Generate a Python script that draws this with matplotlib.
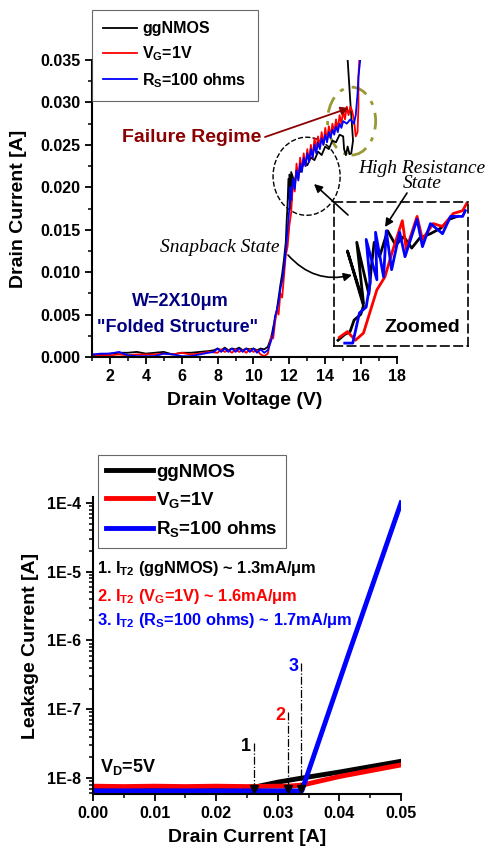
import matplotlib
matplotlib.use("Agg")
import matplotlib.pyplot as plt
import numpy as np
from matplotlib.patches import Ellipse
from matplotlib.ticker import MultipleLocator, LogLocator, FuncFormatter, NullFormatter, FormatStrFormatter

plt.rcParams['font.family'] = ['Liberation Sans', 'DejaVu Sans']
plt.rcParams['font.weight'] = 'bold'
plt.rcParams['axes.labelweight'] = 'bold'
plt.rcParams['mathtext.fontset'] = 'custom'
plt.rcParams['mathtext.rm'] = 'Liberation Sans:bold'
plt.rcParams['mathtext.it'] = 'Liberation Sans:bold:italic'
plt.rcParams['mathtext.bf'] = 'Liberation Sans:bold'

# ---- top panel: TLP I-V (current in mA) ----
gg_v = [1.0, 1.5, 2.0, 2.5, 3.0, 3.5, 4.0, 4.5, 5.0, 5.5, 6.0, 6.5, 7.0, 7.5, 7.8,
        8.0, 8.2, 8.4, 8.6, 8.8, 9.0, 9.2, 9.4, 9.6, 9.8, 10.0, 10.2, 10.4, 10.6, 10.8,
        11.0, 11.1, 11.2, 11.3, 11.4, 11.5, 11.6, 11.7, 11.8, 11.85, 11.9, 11.95,
        12.05, 12.0, 12.15, 12.1, 12.3, 12.4, 12.6, 12.8, 13.0, 13.2, 13.4, 13.6, 13.8,
        14.0, 14.2, 14.4, 14.6, 14.8, 15.0, 15.05, 15.15, 15.25, 15.35, 15.45, 15.55, 15.4, 15.25]
gg_i = [0.2, 0.3, 0.4, 0.5, 0.5, 0.6, 0.4, 0.5, 0.6, 0.3, 0.5, 0.5, 0.6, 0.7, 0.8,
        1.0, 0.8, 1.1, 0.8, 1.0, 0.9, 1.1, 0.8, 1.0, 0.9, 1.0, 0.8, 1.0, 0.9, 1.2,
        2.4, 3.5, 4.5, 5.5, 7.0, 8.5, 9.8, 11.5, 13.5, 16.0, 18.0, 21.0,
        17.5, 21.5, 18.5, 21.8, 20.5, 22.0, 21.8, 22.8, 22.6, 23.5, 23.2, 24.2, 23.8,
        24.8, 24.5, 25.5, 25.3, 26.2, 26.0, 24.5, 23.8, 24.8, 23.9, 24.0, 25.5, 30.0, 35.0]

vg_v = [1.0, 1.5, 2.0, 2.5, 3.0, 3.5, 4.0, 4.5, 5.0, 5.5, 6.0, 6.5, 7.0, 7.5, 8.0,
        8.2, 8.4, 8.6, 8.8, 9.0, 9.2, 9.4, 9.6, 9.8, 10.0, 10.2, 10.4, 10.6, 10.8, 10.9,
        11.0, 11.1, 11.2, 11.3, 11.4, 11.5, 11.6, 11.7, 11.8, 11.9,
        12.0, 12.1, 12.2, 12.3, 12.4, 12.5, 12.6, 12.7, 12.8, 12.9,
        13.0, 13.1, 13.2, 13.3, 13.4, 13.5, 13.6, 13.7, 13.8, 13.9,
        14.0, 14.1, 14.2, 14.3, 14.4, 14.5, 14.6, 14.7, 14.8, 14.9,
        15.0, 15.1, 15.2, 15.3, 15.4, 15.5, 15.6, 15.7, 15.8, 15.85, 15.85, 15.9]
vg_i = [0.3, 0.2, 0.2, 0.3, 0.2, 0.3, 0.3, 0.3, 0.4, 0.3, 0.5, 0.3, 0.4, 0.6, 0.5,
        0.9, 0.6, 0.8, 0.5, 0.9, 0.6, 0.8, 0.5, 0.9, 0.6, 0.8, 0.3, 0.1, 0.4, 1.5,
        2.5, 2.2, 4.0, 5.5, 5.0, 7.5, 7.0, 9.5, 12.0, 13.0,
        15.5, 17.0, 20.5, 19.5, 22.8, 21.0, 23.5, 22.0, 24.0, 22.5,
        24.5, 23.0, 25.0, 23.5, 25.8, 24.5, 26.0, 24.8, 26.5, 25.0,
        27.0, 25.5, 27.2, 26.0, 27.5, 26.5, 28.0, 26.8, 28.5, 27.5,
        29.0, 28.0, 29.5, 28.5, 29.5, 29.0, 28.0, 26.0, 26.5, 29.5, 33.0, 35.0]

rs_v = [1.0, 1.5, 2.0, 2.5, 3.0, 3.5, 4.0, 4.5, 5.0, 5.5, 6.0, 6.5, 7.0, 7.5, 7.8,
        8.0, 8.2, 8.4, 8.6, 8.8, 9.0, 9.2, 9.4, 9.6, 9.8, 10.0, 10.2, 10.4, 10.6, 10.8,
        11.0, 11.1, 11.2, 11.3, 11.4, 11.5, 11.6, 11.7, 11.8, 11.9, 12.0, 12.05, 12.1,
        12.2, 12.3, 12.4, 12.5, 12.6, 12.7, 12.8, 12.9,
        13.0, 13.1, 13.2, 13.3, 13.4, 13.5, 13.6, 13.7, 13.8, 13.9,
        14.0, 14.1, 14.2, 14.3, 14.4, 14.5, 14.6, 14.7, 14.8, 14.9,
        15.0, 15.2, 15.4, 15.6, 15.7, 15.8, 15.85, 15.95]
rs_i = [0.3, 0.4, 0.4, 0.6, 0.2, 0.1, 0.1, 0.1, 0.4, 0.3, 0.1, 0.1, 0.3, 0.5, 0.6,
        1.0, 0.6, 1.0, 0.6, 1.0, 0.6, 1.0, 0.6, 1.0, 0.6, 1.0, 0.5, 0.9, 0.5, 0.8,
        2.0, 3.0, 4.8, 5.5, 6.5, 8.0, 9.0, 10.5, 12.5, 15.0, 17.5, 20.0, 18.5,
        21.0, 19.8, 22.0, 20.8, 22.8, 21.8, 23.5, 22.5,
        24.0, 23.0, 24.5, 23.5, 25.0, 24.0, 25.3, 24.5, 25.8, 25.0,
        26.2, 25.3, 26.5, 25.8, 26.8, 26.2, 27.2, 26.5, 27.5, 27.0,
        27.8, 27.5, 28.0, 27.5, 28.5, 31.0, 33.0, 35.0]

# zoomed view of the snapback region (relative units 0-100 inside the box)
zoom_gg_u = [3, 8, 12, 15, 20, 22, 10, 22, 17, 26, 28, 30, 34, 40, 46, 52, 58, 64, 72, 80, 86, 92]
zoom_gg_v = [4, 8, 10, 18, 22, 28, 66, 30, 72, 36, 56, 72, 62, 80, 70, 76, 68, 75, 78, 82, 88, 90]
zoom_vg_u = [4, 10, 16, 22, 27, 32, 38, 44, 51, 54, 62, 66, 74, 81, 89, 96, 99]
zoom_vg_v = [6, 10, 4, 9, 24, 39, 48, 67, 87, 67, 90, 74, 85, 83, 92, 94, 99]
zoom_rs_u = [8, 14, 19, 24, 27, 24, 32, 31, 37, 39, 43, 49, 53, 62, 66, 72, 81, 87, 96, 98]
zoom_rs_v = [2, 2, 23, 27, 44, 74, 46, 79, 48, 80, 53, 79, 62, 88, 69, 85, 78, 90, 90, 94]

# ---- bottom panel: leakage vs drain current ----
gg_id = [0.0, 0.005, 0.010, 0.015, 0.020, 0.026, 0.030, 0.034, 0.040, 0.050]
gg_leak = [7.2e-9, 7.1e-9, 7.2e-9, 7.1e-9, 7.2e-9, 7.3e-9, 8.7e-9, 1.0e-8, 1.22e-8, 1.75e-8]
vg_id = [0.0, 0.005, 0.010, 0.015, 0.020, 0.025, 0.030, 0.0317, 0.034, 0.040, 0.050]
vg_leak = [7.6e-9, 7.5e-9, 7.6e-9, 7.5e-9, 7.6e-9, 7.5e-9, 7.6e-9, 7.6e-9, 7.9e-9, 1.05e-8, 1.55e-8]
rs_id = [0.0, 0.01, 0.02, 0.03, 0.0339, 0.0414, 0.050]
rs_leak = [6.5e-9, 6.5e-9, 6.5e-9, 6.5e-9, 6.5e-9, 6.0e-7, 1.0e-4]

it2_current = [0.0261, 0.0317, 0.0338]
it2_mark_top = [3.2e-8, 9.1e-8, 4.7e-7]
it2_labels = ['1', '2', '3']
it2_colors = ['black', 'red', 'blue']

W, H = 486, 856


def fx(x):
    return x / W


def fy(y):
    return 1 - y / H


def style_axis(ax):
    for s in ['top', 'right']:
        ax.spines[s].set_visible(False)
    for s in ['left', 'bottom']:
        ax.spines[s].set_linewidth(1.5)
    ax.tick_params(which='major', direction='out', length=5, width=1.3, labelsize=11.5)
    ax.tick_params(which='minor', direction='out', length=3, width=1.1)


fig = plt.figure(figsize=(4.86, 8.56), dpi=100)

# top panel
ax1 = fig.add_axes([fx(92), fy(357), (397 - 92) / W, (357 - 60) / H])
ax1.plot(gg_v, np.array(gg_i) * 1e-3, color='black', lw=1.3, label='ggNMOS')
ax1.plot(vg_v, np.array(vg_i) * 1e-3, color='red', lw=1.3, label=r'V$_\mathrm{G}$=1V')
ax1.plot(rs_v, np.array(rs_i) * 1e-3, color='blue', lw=1.3, label=r'R$_\mathrm{S}$=100 ohms')
ax1.set_xlim(1, 18)
ax1.set_ylim(0, 0.035)
style_axis(ax1)
ax1.xaxis.set_major_locator(MultipleLocator(2))
ax1.xaxis.set_minor_locator(MultipleLocator(1))
ax1.yaxis.set_major_locator(MultipleLocator(0.005))
ax1.yaxis.set_minor_locator(MultipleLocator(0.0025))
ax1.yaxis.set_major_formatter(FormatStrFormatter('%.3f'))
ax1.set_xlabel('Drain Voltage (V)', fontsize=14, labelpad=6)
ax1.set_ylabel('Drain Current [A]', fontsize=14, labelpad=9)
leg1 = ax1.legend(loc='upper left', bbox_to_anchor=(0, (357 - 10) / 297), fancybox=False,
                  edgecolor='#444444', fontsize=11.5, handlelength=2.1, handletextpad=0.35,
                  labelspacing=0.5, borderaxespad=0, borderpad=0.7)
leg1.get_frame().set_linewidth(0.8)

ax1.add_patch(Ellipse((12.96, 0.0213), 3.74, 0.0092, fill=False, ls='--', lw=1.0, ec='black'))
ax1.add_patch(Ellipse((15.47, 0.0278), 2.68, 0.0080, fill=False, ls=(0, (6, 3, 1.5, 3)),
                      lw=2.0, ec='#999933'))


def arrow(x0, y0, x1, y1, color='black', rad=0.0, lw=1.2):
    ax1.annotate('', xy=(fx(x1), fy(y1)), xycoords='figure fraction',
                 xytext=(fx(x0), fy(y0)), textcoords='figure fraction',
                 arrowprops=dict(arrowstyle='-|>', color=color, lw=lw, mutation_scale=12,
                                 shrinkA=0, shrinkB=0, connectionstyle=f'arc3,rad={rad}'),
                 annotation_clip=False)


fig.text(fx(192), fy(138), 'Failure Regime', ha='center', va='center', color='#8B0000',
         fontsize=14, weight='bold')
arrow(265, 137, 349, 108, color='#8B0000', lw=1.3)
fig.text(fx(422), fy(176), 'High Resistance\nState', ha='center', va='center',
         fontsize=14, family='Liberation Serif', style='italic', weight='normal',
         linespacing=0.9)
arrow(348, 215, 314, 184)
arrow(407, 193, 385, 227)
fig.text(fx(220), fy(248), 'Snapback State', ha='center', va='center',
         fontsize=14, family='Liberation Serif', style='italic', weight='normal')
arrow(288, 255, 352, 275, rad=0.3)
fig.text(fx(180), fy(302), 'W=2X10μm', ha='center', va='center', color='#000080', fontsize=13)
fig.text(fx(178), fy(328), '"Folded Structure"', ha='center', va='center', color='#000080',
         fontsize=13)

# zoomed box
axz = fig.add_axes([fx(334), fy(346), (468 - 334) / W, (346 - 202) / H])
axz.set_facecolor('none')
axz.plot(zoom_gg_u, zoom_gg_v, color='black', lw=2)
axz.plot(zoom_vg_u, zoom_vg_v, color='red', lw=2)
axz.plot(zoom_rs_u, zoom_rs_v, color='blue', lw=2)
axz.set_xlim(0, 100)
axz.set_ylim(0, 100)
axz.set_xticks([])
axz.set_yticks([])
for sp in axz.spines.values():
    sp.set_linestyle((0, (5, 3)))
    sp.set_linewidth(1.2)
axz.text(66, 13, 'Zoomed', ha='center', va='center', fontsize=14)

# bottom panel
ax2 = fig.add_axes([fx(93), fy(794), (401 - 93) / W, (794 - 497) / H])
ax2.plot(gg_id, gg_leak, color='black', lw=3.5, label='ggNMOS')
ax2.plot(vg_id, vg_leak, color='red', lw=3.5, label=r'V$_\mathrm{G}$=1V')
ax2.plot(rs_id, rs_leak, color='blue', lw=3.5, label=r'R$_\mathrm{S}$=100 ohms')
ax2.set_yscale('log')
ax2.set_xlim(0, 0.05)
ax2.set_ylim(5.85e-9, 1.22e-4)
style_axis(ax2)
ax2.xaxis.set_major_locator(MultipleLocator(0.01))
ax2.xaxis.set_minor_locator(MultipleLocator(0.005))
ax2.xaxis.set_major_formatter(FormatStrFormatter('%.2f'))
ax2.yaxis.set_major_locator(LogLocator(base=10))
ax2.yaxis.set_minor_locator(LogLocator(base=10, subs=np.arange(2, 10)))
ax2.yaxis.set_minor_formatter(NullFormatter())
ax2.yaxis.set_major_formatter(FuncFormatter(lambda v, p: f'1E{int(round(np.log10(v)))}'))
ax2.set_xlabel('Drain Current [A]', fontsize=14, labelpad=6)
ax2.set_ylabel('Leakage Current [A]', fontsize=14, labelpad=6)
leg2 = ax2.legend(loc='upper left', bbox_to_anchor=(5 / 308, (794 - 455) / 297), fancybox=False,
                  edgecolor='#444444', fontsize=13.5, handlelength=2.5, handletextpad=0.15,
                  labelspacing=0.5, borderaxespad=0, borderpad=0.45)
leg2.get_frame().set_linewidth(0.8)

for x, top, lab, c in zip(it2_current, it2_mark_top, it2_labels, it2_colors):
    ax2.plot([x, x], [top, 7.0e-9], ls='-.', color='black', lw=0.9)
    ax2.plot(x, 7.0e-9, marker='v', color='black', ms=6)
    ax2.annotate(lab, xy=(x, top), xytext=(-2, -2.5), textcoords='offset points',
                 ha='right', va='center', color=c, fontsize=13)

fig.text(fx(97), fy(568), r'1. I$_\mathrm{T2}$ (ggNMOS) ~ 1.3mA/μm', ha='left', va='center',
         fontsize=11.8, color='black')
fig.text(fx(97), fy(596), r'2. I$_\mathrm{T2}$ (V$_\mathrm{G}$=1V) ~ 1.6mA/μm', ha='left',
         va='center', fontsize=11.8, color='red')
fig.text(fx(97), fy(621), r'3. I$_\mathrm{T2}$ (R$_\mathrm{S}$=100 ohms) ~ 1.7mA/μm', ha='left',
         va='center', fontsize=11.8, color='blue')
fig.text(fx(100), fy(767), r'V$_\mathrm{D}$=5V', ha='left', va='center', fontsize=13)

fig.savefig('out.png', dpi=100)
